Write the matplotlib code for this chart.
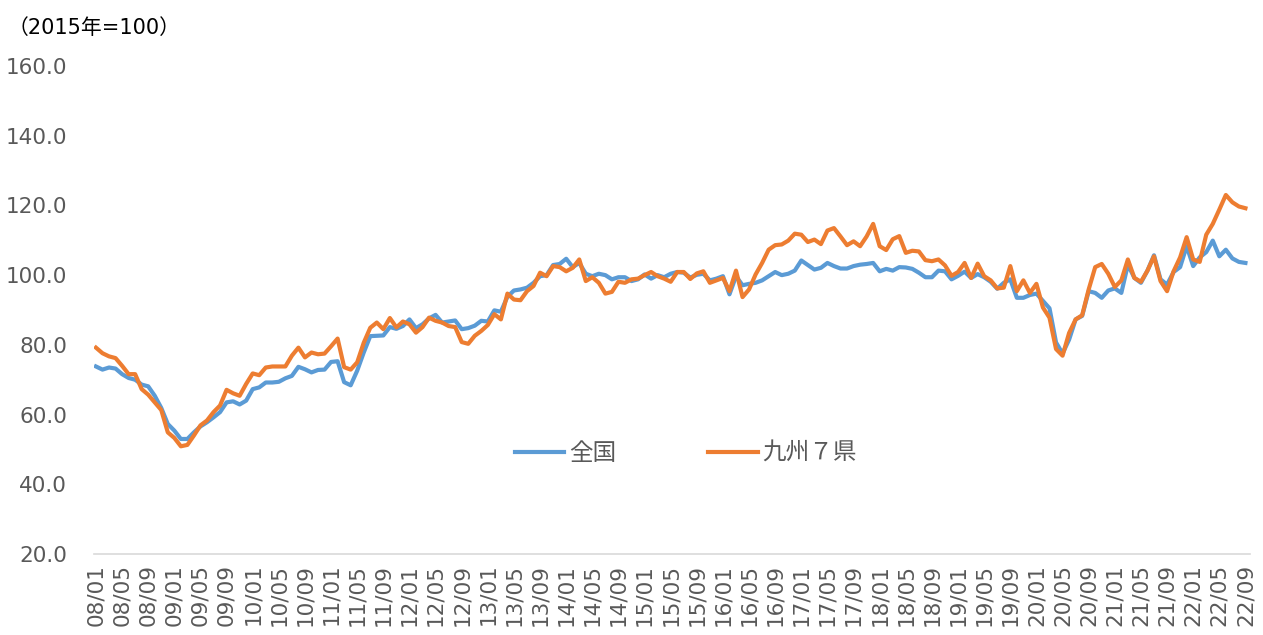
import matplotlib
matplotlib.use("Agg")
import matplotlib.pyplot as plt

# Monthly index, 2008/01 - 2022/09 (2015 = 100)
years = list(range(8, 23))
months = [f"{y:02d}/{m:02d}" for y in years for m in range(1, 13)][:177]
tick_labels = months[::4]

zenkoku = [
    73.8, 72.9, 73.5, 73.2, 71.6, 70.5, 70.0, 68.6, 68.1, 65.4, 61.9, 57.3,
    55.4, 53.0, 53.0, 54.9, 56.6, 57.8, 59.2, 60.7, 63.5, 63.8, 62.9, 64.0,
    67.3, 67.8, 69.2, 69.2, 69.4, 70.4, 71.1, 73.7, 73.0, 72.1, 72.8, 72.9,
    75.1, 75.3, 69.3, 68.4, 72.6, 77.8, 82.5, 82.6, 82.7, 85.1, 84.6, 85.4,
    87.3, 84.8, 85.9, 87.6, 88.6, 86.4, 86.7, 87.0, 84.5, 84.8, 85.5, 86.9,
    86.7, 89.9, 89.5, 93.8, 95.6, 95.9, 96.4, 97.8, 99.7, 100.0, 102.9, 103.2,
    104.7, 102.3, 103.5, 100.4, 99.7, 100.4, 100.0, 98.8, 99.4, 99.4, 98.3, 98.8,
    100.2, 99.0, 100.0, 99.4, 100.4, 100.9, 100.7, 99.3, 100.1, 100.4, 98.5, 99.0,
    99.7, 94.5, 99.7, 97.1, 97.5, 97.8, 98.5, 99.7, 100.9, 100.0, 100.4, 101.3,
    104.2, 102.9, 101.6, 102.1, 103.5, 102.6, 101.9, 101.9, 102.6, 103.0, 103.2, 103.5,
    101.1, 101.8, 101.3, 102.3, 102.2, 101.8, 100.7, 99.4, 99.4, 101.3, 101.1, 98.8,
    99.8, 101.0, 99.2, 100.3, 99.4, 98.1, 96.1, 97.8, 98.8, 93.5, 93.5, 94.3,
    94.7, 92.6, 90.5, 80.7, 77.5, 81.5, 87.3, 88.3, 95.4, 94.9, 93.5, 95.6,
    96.2, 94.9, 103.0, 99.2, 97.8, 101.3, 105.7, 98.8, 97.3, 100.9, 102.3, 108.3,
    102.6, 105.1, 106.6, 109.9, 105.4, 107.3, 104.8, 103.8, 103.5,
]

kyushu = [
    79.2, 77.6, 76.7, 76.2, 74.0, 71.6, 71.6, 67.3, 65.7, 63.5, 61.3, 54.9,
    53.3, 50.9, 51.3, 54.0, 56.9, 58.3, 60.7, 62.6, 67.1, 66.1, 65.4, 68.8,
    71.8, 71.3, 73.5, 73.8, 73.8, 73.8, 76.9, 79.2, 76.4, 77.8, 77.3, 77.5,
    79.6, 81.8, 73.6, 72.9, 75.0, 80.6, 84.9, 86.4, 84.5, 87.7, 85.0, 86.7,
    85.9, 83.5, 85.1, 87.8, 86.9, 86.4, 85.4, 85.1, 80.8, 80.3, 82.6, 84.0,
    85.7, 88.8, 87.3, 94.7, 93.0, 92.8, 95.4, 96.9, 100.7, 99.7, 102.6, 102.3,
    101.1, 102.1, 104.5, 98.3, 99.4, 97.8, 94.7, 95.2, 98.1, 97.8, 98.8, 99.0,
    100.0, 100.9, 99.7, 99.0, 98.1, 100.9, 100.9, 98.9, 100.5, 101.1, 97.8, 98.5,
    99.2, 95.4, 101.3, 93.7, 95.9, 100.2, 103.5, 107.3, 108.6, 108.8, 109.9, 111.9,
    111.6, 109.5, 110.2, 108.9, 112.8, 113.5, 111.1, 108.6, 109.7, 108.3, 111.1, 114.7,
    108.3, 107.2, 110.3, 111.2, 106.4, 107.0, 106.8, 104.3, 104.0, 104.5, 102.8, 99.8,
    100.9, 103.5, 99.2, 103.3, 99.7, 98.5, 96.2, 96.4, 102.6, 95.4, 98.5, 94.9,
    97.5, 90.7, 87.8, 78.8, 76.9, 83.4, 87.3, 88.5, 95.9, 102.3, 103.2, 100.4,
    96.6, 98.5, 104.5, 99.2, 98.1, 101.3, 105.4, 98.3, 95.4, 101.1, 105.1, 110.9,
    104.5, 103.8, 111.6, 114.7, 118.8, 123.0, 120.9, 119.7, 119.2,
]

plt.rcParams["font.family"] = ["DejaVu Sans", "Noto Sans CJK JP"]

fig = plt.figure(figsize=(12.63, 6.35), dpi=100)
ax = fig.add_axes([94 / 1263, 1 - 554 / 635, 1156 / 1263, 488 / 635])

x = list(range(len(months)))
ax.plot(x, zenkoku, color="#5B9BD5", lw=3.0, label="全国", solid_joinstyle="round")
ax.plot(x, kyushu, color="#ED7D31", lw=3.0, label="九州７県", solid_joinstyle="round")

ax.set_ylim(20, 160)
ax.set_yticks(range(20, 161, 20))
ax.set_yticklabels([f"{v:.1f}" for v in range(20, 161, 20)])
ax.set_xlim(-0.3, len(months) - 0.3)
ax.set_xticks(x[::4])
ax.set_xticklabels(tick_labels, rotation=90)

for s in ["top", "right", "left"]:
    ax.spines[s].set_visible(False)
ax.spines["bottom"].set_color("#d9d9d9")
ax.spines["bottom"].set_linewidth(1.2)
ax.tick_params(axis="both", length=0, labelsize=15.5, colors="#595959")
ax.tick_params(axis="y", pad=19.5)
ax.tick_params(axis="x", pad=7)

leg = ax.legend(loc="center", bbox_to_anchor=(0.512, 0.207), ncol=2, frameon=False,
                fontsize=17, handlelength=2.1, columnspacing=3.9, handletextpad=0.2)
for t in leg.get_texts():
    t.set_color("#595959")

fig.text(8 / 1263, 1 - 28 / 635, "（2015年=100）", fontsize=15, color="black",
         va="center", ha="left")

fig.savefig("out.png", dpi=100)
